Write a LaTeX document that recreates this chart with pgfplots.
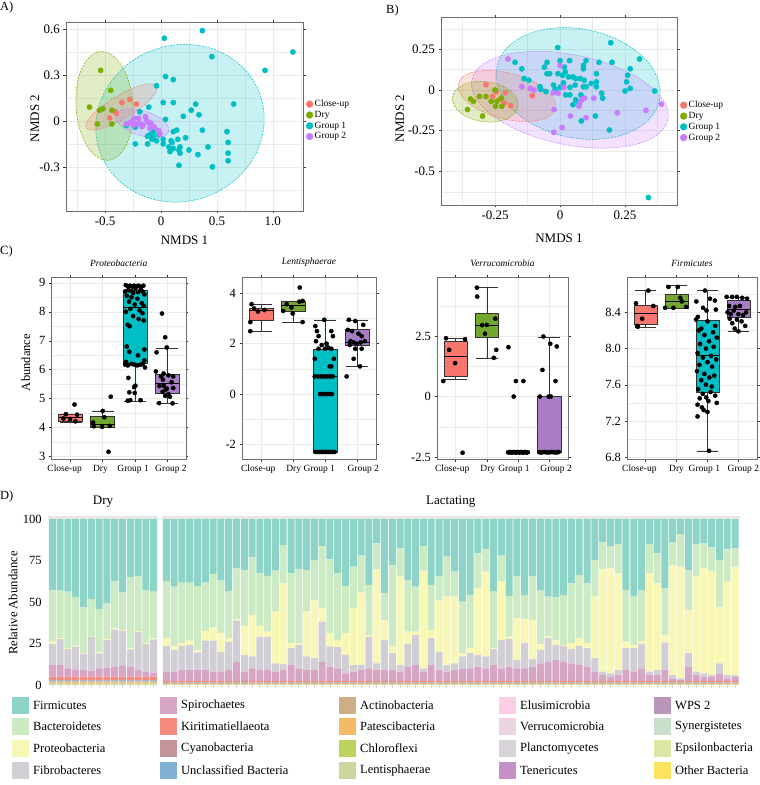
\documentclass[border=0pt]{standalone}
\usepackage{fontspec}
\setmainfont{Liberation Serif}
\usepackage{pgfplots}
\usepackage{pgfplotstable}
\pgfplotsset{compat=1.18}
\usepgfplotslibrary{statistics}
\usetikzlibrary{shapes.geometric}
\newcommand{\fs}[1]{\fontsize{#1}{#1}\selectfont}
\definecolor{cu}{HTML}{F8766D}
\definecolor{dr}{HTML}{7CAE00}
\definecolor{ga}{HTML}{00BFC4}
\definecolor{gb}{HTML}{C77CFF}
\definecolor{gbbox}{HTML}{A87DC6}
\definecolor{drbox}{HTML}{72A830}
\definecolor{framec}{HTML}{6E6E6E}
\definecolor{gridc}{HTML}{EBEBEB}
\definecolor{boxc}{HTML}{333333}
\definecolor{stripc}{HTML}{E6E6E6}
\definecolor{tickD}{HTML}{D9D9D9}
\definecolor{cFir}{HTML}{8DD3C7}
\definecolor{cBac}{HTML}{CCEBC5}
\definecolor{cPro}{HTML}{F9F7B6}
\definecolor{cFib}{HTML}{D2CED6}
\definecolor{cSpi}{HTML}{D6A6C4}
\definecolor{cKir}{HTML}{F58A7E}
\definecolor{cCya}{HTML}{C4939B}
\definecolor{cUnc}{HTML}{80B1D3}
\definecolor{cAct}{HTML}{CFAE86}
\definecolor{cPat}{HTML}{F4BA66}
\definecolor{cChl}{HTML}{BDD35F}
\definecolor{cLen}{HTML}{CBD79D}
\definecolor{cElu}{HTML}{FCCDE5}
\definecolor{cVer}{HTML}{ECD5E3}
\definecolor{cPla}{HTML}{D7D3D9}
\definecolor{cTen}{HTML}{C590C7}
\definecolor{cWps}{HTML}{B996BA}
\definecolor{cSyn}{HTML}{C9DFCB}
\definecolor{cEps}{HTML}{DCE6A5}
\definecolor{cOth}{HTML}{FCE35E}

\pgfplotstableread{
x F B P Fi S K C U A Pa Ch L
1 42.8 31.1 1.4 12.7 7.0 2.0 0.3 0.6 0.7 0.5 0.5 0.4
2 43.2 28.5 0.6 15.7 7.0 2.0 0.3 0.6 0.7 0.5 0.5 0.4
3 43.8 33.9 0.6 11.7 5.0 2.0 0.3 0.6 0.7 0.5 0.5 0.4
4 47.0 29.3 0.6 13.7 4.4 2.0 0.3 0.6 0.7 0.5 0.5 0.4
5 53.2 27.7 0.4 9.7 4.0 2.0 0.3 0.6 0.7 0.5 0.5 0.4
6 48.2 22.3 0.4 20.5 3.6 2.0 0.3 0.6 0.7 0.5 0.5 0.4
7 54.2 26.1 0.6 9.1 5.0 2.0 0.3 0.6 0.7 0.5 0.5 0.4
8 50.8 21.5 0.6 16.7 5.4 2.0 0.3 0.6 0.7 0.5 0.5 0.4
9 37.3 28.6 0.6 22.5 6.0 2.0 0.3 0.6 0.7 0.5 0.5 0.4
10 44.2 22.7 0.6 20.9 6.6 2.0 0.3 0.6 0.7 0.5 0.5 0.4
11 34.9 43.0 0.6 10.5 6.0 2.0 0.3 0.6 0.7 0.5 0.5 0.4
12 34.3 33.2 0.6 22.9 4.0 2.0 0.3 0.6 0.7 0.5 0.5 0.4
13 42.8 31.9 0.6 16.7 3.0 2.0 0.3 0.6 0.7 0.5 0.5 0.4
14 43.8 28.1 0.6 20.1 2.4 2.0 0.3 0.6 0.7 0.5 0.5 0.4
}\drytab

\pgfplotstableread{
x F B P Fi S K C U A Pa Ch L
1 37.3 34.5 4.6 15.6 5.5 0.9 0.2 0.3 0.4 0.3 0.2 0.2
2 40.7 36.1 2.0 13.2 5.5 0.9 0.2 0.3 0.4 0.3 0.2 0.2
3 38.3 36.5 1.6 14.6 6.5 0.9 0.2 0.3 0.4 0.3 0.2 0.2
4 38.3 34.9 2.8 15.0 6.5 0.9 0.2 0.3 0.4 0.3 0.2 0.2
5 40.3 38.9 1.2 10.6 6.5 0.9 0.2 0.3 0.4 0.3 0.2 0.2
6 38.3 29.1 5.8 17.8 6.5 0.9 0.2 0.3 0.4 0.3 0.2 0.2
7 33.1 32.3 7.8 18.8 5.5 0.9 0.2 0.3 0.4 0.3 0.2 0.2
8 37.1 31.7 11.2 12.0 5.5 0.9 0.2 0.3 0.4 0.3 0.2 0.2
9 43.3 28.5 2.2 17.0 6.5 0.9 0.2 0.3 0.4 0.3 0.2 0.2
10 29.7 30.7 0.8 24.8 11.5 0.9 0.2 0.3 0.4 0.3 0.2 0.2
11 30.7 33.7 17.4 10.2 5.5 0.9 0.2 0.3 0.4 0.3 0.2 0.2
12 23.1 34.7 25.0 7.2 7.5 0.9 0.2 0.3 0.4 0.3 0.2 0.2
13 32.7 31.7 6.4 20.2 6.5 0.9 0.2 0.3 0.4 0.3 0.2 0.2
14 34.3 33.5 3.4 19.8 6.5 0.9 0.2 0.3 0.4 0.3 0.2 0.2
15 31.1 24.7 31.2 5.0 5.5 0.9 0.2 0.3 0.4 0.3 0.2 0.2
16 15.7 23.0 48.5 3.8 6.5 0.9 0.2 0.3 0.4 0.3 0.2 0.2
17 32.7 42.1 3.0 10.2 9.5 0.9 0.2 0.3 0.4 0.3 0.2 0.2
18 30.1 44.7 1.0 14.2 7.5 0.9 0.2 0.3 0.4 0.3 0.2 0.2
19 30.7 25.1 27.0 8.2 6.5 0.9 0.2 0.3 0.4 0.3 0.2 0.2
20 25.1 24.1 34.6 7.2 6.5 0.9 0.2 0.3 0.4 0.3 0.2 0.2
21 16.3 37.5 8.0 24.2 11.5 0.9 0.2 0.3 0.4 0.3 0.2 0.2
22 24.3 44.5 8.0 12.2 8.5 0.9 0.2 0.3 0.4 0.3 0.2 0.2
23 32.7 40.5 4.0 12.8 7.5 0.9 0.2 0.3 0.4 0.3 0.2 0.2
24 40.3 28.5 13.0 11.2 4.5 0.9 0.2 0.3 0.4 0.3 0.2 0.2
25 28.7 25.1 34.2 4.0 5.5 0.9 0.2 0.3 0.4 0.3 0.2 0.2
26 21.7 22.6 43.7 3.0 6.5 0.9 0.2 0.3 0.4 0.3 0.2 0.2
27 39.7 30.1 1.0 19.2 7.5 0.9 0.2 0.3 0.4 0.3 0.2 0.2
28 14.7 15.6 56.7 4.0 6.5 0.9 0.2 0.3 0.4 0.3 0.2 0.2
29 44.7 16.1 12.0 18.2 6.5 0.9 0.2 0.3 0.4 0.3 0.2 0.2
30 27.7 49.1 4.0 10.2 6.5 0.9 0.2 0.3 0.4 0.3 0.2 0.2
31 17.7 17.0 53.3 4.0 5.5 0.9 0.2 0.3 0.4 0.3 0.2 0.2
32 36.7 31.1 7.4 13.8 8.5 0.9 0.2 0.3 0.4 0.3 0.2 0.2
33 40.7 27.1 2.0 18.2 9.5 0.9 0.2 0.3 0.4 0.3 0.2 0.2
34 16.3 14.8 58.9 2.0 5.5 0.9 0.2 0.3 0.4 0.3 0.2 0.2
35 39.7 27.1 5.0 16.2 9.5 0.9 0.2 0.3 0.4 0.3 0.2 0.2
36 34.3 14.9 30.8 11.0 6.5 0.9 0.2 0.3 0.4 0.3 0.2 0.2
37 22.7 24.1 41.2 4.0 5.5 0.9 0.2 0.3 0.4 0.3 0.2 0.2
38 31.7 15.1 40.2 4.0 6.5 0.9 0.2 0.3 0.4 0.3 0.2 0.2
39 49.8 31.0 2.0 7.2 7.5 0.9 0.2 0.3 0.4 0.3 0.2 0.2
40 45.7 32.1 3.0 9.2 7.5 0.9 0.2 0.3 0.4 0.3 0.2 0.2
41 20.7 21.0 40.1 7.2 8.5 0.9 0.2 0.3 0.4 0.3 0.2 0.2
42 18.3 13.4 51.1 7.2 7.5 0.9 0.2 0.3 0.4 0.3 0.2 0.2
43 43.7 34.1 0.6 9.6 9.5 0.9 0.2 0.3 0.4 0.3 0.2 0.2
44 21.7 16.0 35.1 17.2 7.5 0.9 0.2 0.3 0.4 0.3 0.2 0.2
45 46.3 24.5 1.6 16.6 8.5 0.9 0.2 0.3 0.4 0.3 0.2 0.2
46 34.3 25.5 25.0 5.2 7.5 0.9 0.2 0.3 0.4 0.3 0.2 0.2
47 45.7 14.7 14.4 15.2 7.5 0.9 0.2 0.3 0.4 0.3 0.2 0.2
48 34.3 26.5 23.6 4.6 8.5 0.9 0.2 0.3 0.4 0.3 0.2 0.2
49 43.1 32.3 3.4 8.2 10.5 0.9 0.2 0.3 0.4 0.3 0.2 0.2
50 46.8 24.0 1.0 14.2 11.5 0.9 0.2 0.3 0.4 0.3 0.2 0.2
51 47.2 26.0 2.6 9.2 12.5 0.9 0.2 0.3 0.4 0.3 0.2 0.2
52 45.7 30.1 0.6 9.6 11.5 0.9 0.2 0.3 0.4 0.3 0.2 0.2
53 38.7 36.1 3.6 8.6 10.5 0.9 0.2 0.3 0.4 0.3 0.2 0.2
54 33.7 38.1 4.6 11.6 9.5 0.9 0.2 0.3 0.4 0.3 0.2 0.2
55 38.7 36.1 3.0 11.2 8.5 0.9 0.2 0.3 0.4 0.3 0.2 0.2
56 24.7 22.1 37.0 8.2 5.5 0.9 0.2 0.3 0.4 0.3 0.2 0.2
57 13.7 16.6 61.7 2.0 3.5 0.9 0.2 0.3 0.4 0.3 0.2 0.2
58 16.3 13.4 63.3 2.0 2.5 0.9 0.2 0.3 0.4 0.3 0.2 0.2
59 15.1 17.6 58.3 3.0 3.5 0.9 0.2 0.3 0.4 0.3 0.2 0.2
60 42.7 31.1 4.0 13.2 6.5 0.9 0.2 0.3 0.4 0.3 0.2 0.2
61 46.8 29.0 2.0 14.2 5.5 0.9 0.2 0.3 0.4 0.3 0.2 0.2
62 42.7 31.1 1.4 14.8 7.5 0.9 0.2 0.3 0.4 0.3 0.2 0.2
63 15.1 17.6 59.3 2.0 3.5 0.9 0.2 0.3 0.4 0.3 0.2 0.2
64 20.7 18.0 52.3 3.0 3.5 0.9 0.2 0.3 0.4 0.3 0.2 0.2
65 41.7 28.1 4.6 16.6 6.5 0.9 0.2 0.3 0.4 0.3 0.2 0.2
66 13.7 14.0 66.3 2.0 1.5 0.9 0.2 0.3 0.4 0.3 0.2 0.2
67 9.1 19.6 67.3 1.0 0.5 0.9 0.2 0.3 0.4 0.3 0.2 0.2
68 30.7 24.1 26.0 8.2 8.5 0.9 0.2 0.3 0.4 0.3 0.2 0.2
69 15.1 19.6 57.3 2.0 3.5 0.9 0.2 0.3 0.4 0.3 0.2 0.2
70 14.7 15.0 63.3 2.0 2.5 0.9 0.2 0.3 0.4 0.3 0.2 0.2
71 17.1 14.6 62.3 1.0 2.5 0.9 0.2 0.3 0.4 0.3 0.2 0.2
72 24.7 28.5 33.8 6.0 4.5 0.9 0.2 0.3 0.4 0.3 0.2 0.2
73 18.3 19.4 56.3 2.0 1.5 0.9 0.2 0.3 0.4 0.3 0.2 0.2
74 17.7 11.0 65.3 1.0 2.5 0.9 0.2 0.3 0.4 0.3 0.2 0.2
}\lactab

\newcommand{\stackD}[1]{%
\addplot[fill=cLen,draw=none] table[x=x,y=L]{#1};
\addplot[fill=cChl,draw=none] table[x=x,y=Ch]{#1};
\addplot[fill=cPat,draw=none] table[x=x,y=Pa]{#1};
\addplot[fill=cAct,draw=none] table[x=x,y=A]{#1};
\addplot[fill=cUnc,draw=none] table[x=x,y=U]{#1};
\addplot[fill=cCya,draw=none] table[x=x,y=C]{#1};
\addplot[fill=cKir,draw=none] table[x=x,y=K]{#1};
\addplot[fill=cSpi,draw=none] table[x=x,y=S]{#1};
\addplot[fill=cFib,draw=none] table[x=x,y=Fi]{#1};
\addplot[fill=cPro,draw=none] table[x=x,y=P]{#1};
\addplot[fill=cBac,draw=none] table[x=x,y=B]{#1};
\addplot[fill=cFir,draw=none] table[x=x,y=F]{#1};}

\newcommand{\legkey}[4]{%
\fill[#3] (#1pt,-#2pt) rectangle ++(17pt,-17pt);
\node[anchor=west,inner sep=0pt,font=\fs{12.5}] at ([xshift=21pt,yshift=-8.5pt]#1pt,-#2pt) {#4};}

\tikzset{ell/.style={ellipse, draw=#1, dash pattern=on 2pt off 1.2pt, line width=0.5pt, fill=#1, fill opacity=0.22, inner sep=0pt}}
\pgfplotsset{
  base/.style={scale only axis, anchor=north west,
    axis line style={draw=framec, line width=0.6pt},
    tick style={draw=boxc, line width=0.5pt}, tick align=outside,
    major tick length=2.5pt, minor tick length=0pt,
    grid=both, major grid style={draw=gridc, line width=0.5pt},
    minor grid style={draw=gridc, line width=0.3pt}},
  nm/.style={base, ticklabel style={font=\fs{13}}, label style={font=\fs{13}},
    legend style={draw=none, fill=none, font=\fs{9.5}, inner sep=0pt, nodes={inner sep=1.5pt}},
    legend cell align=left},
  ptsA/.style={only marks, mark=*, mark size=2.7pt, color=#1, mark options={draw=#1, fill=#1, line width=0.3pt},
    legend image code/.code={\fill[#1] (3.5pt,0pt) circle (3.4pt);}},
  bx/.style={base, xmin=0.4, xmax=4.6, xtick={1,2,3,4}, xticklabel=\empty,
    yticklabel style={font=\fs{12.5}},
    title style={font=\fs{9.5}\itshape, at={(0.5,1)}, anchor=south, yshift=0.5pt},
    boxplot/draw direction=y, boxplot/every median/.style={draw=black, line width=1pt}},
  xl/.style={extra x ticks={#1}, extra x tick labels={Close-up,Dry,Group 1,Group 2},
    extra x tick style={grid=none, major tick length=0pt,
      xticklabel style={font=\fs{9.5}, yshift=-2.5pt}}},
  bp/.style={draw=boxc, line width=0.5pt, fill=#1},
  jit/.style={only marks, mark=*, mark size=2.1pt, black},
  dstyle/.style={scale only axis, anchor=north west, ybar stacked, bar width=0.9,
    ymin=0, ymax=100, axis line style={draw=none}, ytick style={draw=none},
    xtick style={draw=tickD, line width=0.8pt}, tick align=outside, major tick length=2.5pt,
    xticklabel=\empty, clip=false,
    title style={font=\fs{13}, at={(0.5,1)}, anchor=center, yshift=11pt}}
}

\begin{document}
\begin{tikzpicture}
\useasboundingbox (0,0) rectangle (760pt,-785pt);
\node[anchor=north west,inner sep=0pt,font=\fs{12.5}] at (0pt,-2pt) {A)};
\node[anchor=north west,inner sep=0pt,font=\fs{12.5}] at (386pt,-5pt) {B)};
\node[anchor=north west,inner sep=0pt,font=\fs{12.5}] at (0pt,-246pt) {C)};
\node[anchor=north west,inner sep=0pt,font=\fs{12.5}] at (0pt,-491pt) {D)};

% ---------------- Panel A
\begin{axis}[nm, at={(66pt,-22pt)}, width=237pt, height=189pt,
  xmin=-0.85, xmax=1.27, ymin=-0.588, ymax=0.646,
  xtick={-0.5,0,0.5,1}, xticklabels={-0.5,0,0.5,1.0},
  minor xtick={-0.75,-0.25,0.25,0.75,1.25},
  ytick={-0.3,0,0.3,0.6}, yticklabels={-0.3,0,0.3,0.6},
  minor ytick={-0.45,-0.15,0.15,0.45},
  xlabel={NMDS 1}, ylabel={NMDS 2},
  xlabel style={at={(axis description cs:0.5,-0.153)}, anchor=center},
  ylabel style={at={(axis description cs:-0.131,0.49)}, anchor=center},
  legend style={at={(axis description cs:1.012,0.48)}, anchor=west}]
\node[ell=ga, minimum width=170pt, minimum height=156pt, rotate=20] at (axis cs:0.17,-0.015) {};
\node[ell=dr, minimum width=57pt, minimum height=109pt, rotate=4] at (axis cs:-0.506,0.098) {};
\node[ell=cu, minimum width=82pt, minimum height=23pt, rotate=30.6] at (axis cs:-0.353,0.092) {};
\node[ell=gb, minimum width=55pt, minimum height=25pt, rotate=-17.7] at (axis cs:-0.167,-0.015) {};
\addplot[ptsA=cu] coordinates {(-0.35,0.12)(-0.28,0.14)(-0.22,0.11)(-0.41,0.06)(-0.40,0.05)(-0.46,0.02)};
\addlegendentry{Close-up}
\addplot[ptsA=dr] coordinates {(-0.54,0.33)(-0.45,0.20)(-0.64,0.09)(-0.55,0.07)(-0.52,0.08)(-0.44,0.07)(-0.57,-0.02)(-0.44,-0.02)};
\addlegendentry{Dry}
\addplot[ptsA=ga] coordinates {(0.03,0.54)(0.37,0.59)(0.455,0.42)(1.18,0.45)(0.93,0.33)(0.04,0.29)(0.11,0.27)(-0.04,0.23)(0.02,0.12)(0.11,0.12)(0.31,0.11)(0.27,0.07)(0.34,0.04)(0.2,0.03)(0.65,0.11)(-0.11,0.09)(0.04,0.01)(-0.19,0.06)(0.37,-0.06)(0.59,-0.07)(0.14,-0.06)(0.11,-0.07)(0.22,-0.11)(0.15,-0.12)(0.09,-0.13)(0.02,-0.12)(-0.04,-0.13)(-0.08,-0.12)(-0.12,-0.15)(-0.23,-0.15)(0.02,-0.15)(0.10,-0.14)(0.07,-0.17)(0.11,-0.18)(0.17,-0.17)(0.16,-0.19)(0.08,-0.2)(0.17,-0.21)(0.25,-0.19)(0.33,-0.22)(0.42,-0.17)(0.60,-0.14)(0.60,-0.21)(0.60,-0.26)(0.46,-0.30)(0.16,-0.29)(-0.23,-0.04)(-0.10,-0.09)(-0.07,-0.07)(-0.02,-0.09)(-0.07,-0.10)(-0.12,-0.1)(-0.31,-0.03)};
\addlegendentry{Group 1}
\addplot[ptsA=gb] coordinates {(-0.31,-0.02)(-0.29,-0.015)(-0.26,-0.005)(-0.24,-0.026)(-0.22,-0.02)(-0.19,-0.015)(-0.16,-0.026)(-0.13,0.006)(-0.14,0.028)(-0.11,-0.011)(-0.09,-0.015)(-0.06,-0.04)(-0.02,-0.063)(-0.01,-0.085)(-0.20,0.017)(-0.24,0.017)(-0.17,-0.037)(-0.10,-0.048)};
\addlegendentry{Group 2}
\end{axis}

% ---------------- Panel B
\begin{axis}[nm, at={(441pt,-17pt)}, width=236pt, height=188pt,
  xmin=-0.458, xmax=0.45, ymin=-0.706, ymax=0.448,
  xtick={-0.25,0,0.25}, xticklabels={-0.25,0,0.25},
  minor xtick={-0.375,-0.125,0.125,0.375},
  ytick={-0.5,-0.25,0,0.25}, yticklabels={-0.5,-0.25,0,0.25},
  minor ytick={-0.625,-0.375,-0.125,0.125,0.375},
  xlabel={NMDS 1}, ylabel={NMDS 2},
  xlabel style={at={(axis description cs:0.5,-0.176)}, anchor=center},
  ylabel style={at={(axis description cs:-0.174,0.46)}, anchor=center},
  legend style={at={(axis description cs:1.012,0.445)}, anchor=west}]
\node[ell=ga, minimum width=166pt, minimum height=109pt, rotate=-11.5] at (axis cs:0.07,0.04) {};
\node[ell=gb, minimum width=200pt, minimum height=90pt, rotate=-11.5] at (axis cs:0.038,-0.06) {};
\node[ell=cu, minimum width=100pt, minimum height=46pt, rotate=-14.6] at (axis cs:-0.205,-0.037) {};
\node[ell=dr, minimum width=66pt, minimum height=40pt, rotate=-8] at (axis cs:-0.288,-0.072) {};
\addplot[ptsA=cu] coordinates {(-0.285,0.033)(-0.246,-0.011)(-0.21,-0.017)(-0.228,-0.055)(-0.19,-0.097)(-0.107,-0.035)(-0.26,-0.04)(-0.215,-0.08)};
\addlegendentry{Close-up}
\addplot[ptsA=dr] coordinates {(-0.344,-0.055)(-0.333,-0.07)(-0.356,-0.12)(-0.298,-0.16)(-0.31,-0.04)(-0.285,-0.04)(-0.265,-0.07)(-0.25,0.0)(-0.243,-0.07)(-0.248,-0.1)(-0.224,-0.1)(-0.226,-0.05)};
\addlegendentry{Dry}
\addplot[ptsA=ga] coordinates {(-0.009,0.26)(0.195,0.29)(0.306,0.19)(0.2,0.17)(0.27,0.13)(0.26,0.09)(0.364,-0.006)(0.27,0.01)(0.25,-0.006)(0.19,-0.246)(-0.173,0.17)(-0.147,0.13)(-0.138,0.07)(-0.12,0.06)(-0.06,0.14)(-0.05,0.17)(0.0,0.18)(0.017,0.14)(0.037,0.18)(-0.05,0.10)(-0.04,0.10)(-0.008,0.10)(0.01,0.09)(0.02,0.11)(0.033,0.08)(0.05,0.08)(0.06,0.07)(0.077,0.07)(0.093,0.06)(0.09,0.15)(0.09,0.13)(0.1,0.18)(0.14,0.1)(0.15,0.17)(0.14,0.05)(0.14,0.02)(0.12,0.04)(0.09,0.02)(0.058,0.03)(0.038,0.016)(0.013,0.044)(-0.025,0.03)(-0.019,0.004)(0.0,0.016)(-0.077,0.02)(-0.074,0.004)(-0.054,-0.01)(0.022,-0.03)(0.038,-0.03)(0.06,-0.06)(0.05,-0.09)(0.072,-0.08)(0.08,-0.03)(0.1,0.02)(0.16,-0.02)(0.164,-0.05)(0.136,-0.16)(0.082,-0.19)(0.256,0.05)(0.34,-0.66)};
\addlegendentry{Group 1}
\addplot[ptsA=gb] coordinates {(-0.2,0.19)(-0.147,0.02)(-0.115,0.01)(-0.1,0.0)(-0.023,-0.12)(-0.026,-0.017)(-0.007,-0.02)(0.0,0.15)(0.014,0.016)(0.084,-0.06)(0.094,-0.05)(0.073,-0.1)(0.075,-0.082)(0.04,-0.16)(0.1,-0.17)(0.22,-0.14)(0.008,-0.23)(-0.024,-0.26)(0.33,-0.125)(0.39,-0.087)(0.13,-0.05)};
\addlegendentry{Group 2}
\end{axis}

% ---------------- Panel C: Proteobacteria
\begin{axis}[bx, xl={0.81,1.93,2.95,4.13}, at={(51.5pt,-277pt)}, width=134.5pt, height=182pt,
  ymin=2.92, ymax=9.2, ytick={3,4,5,6,7,8,9}, yticklabels={3,4,5,6,7,8,9},
  minor ytick={3.5,4.5,5.5,6.5,7.5,8.5},
  title={Proteobacteria}, ylabel={Abundance},
  ylabel style={font=\fs{12.5}, at={(axis description cs:-0.19,0.53)}, anchor=center}]
\addplot[bp=cu, boxplot prepared={draw position=1, lower whisker=4.2, lower quartile=4.24, median=4.36, upper quartile=4.47, upper whisker=4.48, box extend=0.75, whisker extend=0.7}] coordinates {};
\addplot[bp=drbox, boxplot prepared={draw position=2, lower whisker=4.01, lower quartile=4.03, median=4.1, upper quartile=4.41, upper whisker=4.58, box extend=0.75, whisker extend=0.7}] coordinates {};
\addplot[bp=ga, boxplot prepared={draw position=3, lower whisker=4.91, lower quartile=6.22, median=8.14, upper quartile=8.75, upper whisker=8.93, box extend=0.75, whisker extend=0.7}] coordinates {};
\addplot[bp=gbbox, boxplot prepared={draw position=4, lower whisker=4.83, lower quartile=5.19, median=5.53, upper quartile=5.86, upper whisker=6.75, box extend=0.75, whisker extend=0.7}] coordinates {};
\addplot[jit] coordinates {(0.77,4.32)(0.85,4.47)(1.12,4.8)(0.98,4.3)(1.2,4.45)(1.15,4.22)
(1.7,4.18)(1.72,4.05)(2.0,4.58)(2.05,4.36)(1.98,4.03)(2.22,4.06)(2.25,5.07)(2.18,3.17)
(2.72,8.92)(2.78,8.88)(2.85,8.9)(2.92,8.87)(2.98,8.9)(3.05,8.88)(3.12,8.9)(3.2,8.85)(3.27,8.9)(2.7,8.7)(2.8,8.75)(2.88,8.72)(2.95,8.65)(3.02,8.8)(3.1,8.68)(3.18,8.75)(3.25,8.7)(3.3,8.6)(2.75,8.55)(2.9,8.5)(3.08,8.45)(3.22,8.3)(3.28,8.2)(2.82,8.35)(3.0,8.25)(2.86,8.1)(3.15,8.05)(2.72,8.0)(3.24,7.95)(2.95,7.85)(3.12,7.75)(2.78,7.55)(2.84,7.5)(3.28,7.7)
(2.75,6.8)(2.83,6.62)(3.3,6.7)(3.1,6.5)(2.7,6.18)(2.78,6.15)(2.9,6.2)(2.98,6.18)(3.08,6.15)(3.18,6.17)(3.25,6.2)(3.3,6.32)(2.73,6.27)(3.32,6.08)
(2.8,5.72)(2.83,5.22)(2.78,4.93)(2.86,4.95)(3.0,5.2)(2.98,5.4)(3.02,5.45)(3.18,4.95)
(3.85,7.94)(3.95,7.12)(3.68,6.6)(4.0,6.77)(3.66,5.94)(3.82,5.77)(3.9,5.87)(4.05,5.81)(4.2,5.77)(3.88,5.66)(4.15,5.57)(3.77,5.44)(4.2,5.37)(4.0,5.35)(3.87,5.24)(4.05,5.16)(3.95,5.1)(4.1,5.07)(3.76,4.85)(4.18,4.84)(3.97,5.32)(3.9,5.45)};
\end{axis}

% ---------------- Panel C: Lentisphaerae
\begin{axis}[bx, xl={0.91,2.02,2.82,4.2}, at={(242pt,-277pt)}, width=134pt, height=182pt,
  ymin=-2.58, ymax=4.65, ytick={-2,0,2,4}, yticklabels={-2,0,2,4},
  minor ytick={-1,1,3}, title={Lentisphaerae}]
\addplot[bp=cu, boxplot prepared={draw position=1, lower whisker=2.48, lower quartile=2.94, median=3.3, upper quartile=3.4, upper whisker=3.57, box extend=0.75, whisker extend=0.7}] coordinates {};
\addplot[bp=drbox, boxplot prepared={draw position=2, lower whisker=2.84, lower quartile=3.27, median=3.5, upper quartile=3.67, upper whisker=3.7, box extend=0.75, whisker extend=0.7}] coordinates {};
\addplot[bp=ga, boxplot prepared={draw position=3, lower whisker=-2.3, lower quartile=-2.3, median=0.7, upper quartile=1.79, upper whisker=2.95, box extend=0.75, whisker extend=0.7}] coordinates {};
\addplot[bp=gbbox, boxplot prepared={draw position=4, lower whisker=1.11, lower quartile=1.92, median=2.05, upper quartile=2.58, upper whisker=2.95, box extend=0.75, whisker extend=0.7}] coordinates {};
\addplot[jit] coordinates {(0.7,3.57)(0.78,3.4)(0.9,3.28)(1.1,3.34)(0.66,2.86)(0.66,2.5)
(2.21,4.23)(1.69,3.3)(1.8,3.57)(1.95,3.44)(1.99,3.2)(2.2,3.67)(2.3,3.7)(2.3,2.86)
(2.98,2.95)(2.7,2.7)(2.75,2.5)(3.2,2.5)(2.72,2.1)(3.25,2.3)(2.9,1.95)(3.1,1.85)(2.8,1.8)(3.0,1.8)(3.2,1.8)(2.68,1.4)(3.28,1.4)(3.15,1.1)(3.2,1.1)(2.68,0.7)(2.78,0.7)(2.88,0.7)(2.97,0.7)(3.06,0.7)(3.15,0.7)(3.24,0.7)(2.85,0)(2.92,0)(3.0,0)(3.07,0)(3.14,0)(3.22,0)(2.7,-2.3)(2.76,-2.3)(2.82,-2.3)(2.88,-2.3)(2.94,-2.3)(3.0,-2.3)(3.06,-2.3)(3.12,-2.3)(3.18,-2.3)(3.24,-2.3)(3.3,-2.3)(2.8,2.3)(3.05,2.0)
(3.75,2.95)(3.95,2.9)(4.2,2.75)(3.72,2.55)(3.85,2.5)(4.05,2.4)(4.15,2.3)(3.8,2.1)(3.9,2.05)(4.0,2.0)(4.12,2.05)(4.25,2.1)(3.78,1.95)(3.95,1.8)(4.15,1.8)(3.9,1.4)(4.1,1.1)(3.68,0.7)};
\end{axis}

% ---------------- Panel C: Verrucomicrobia
\begin{axis}[bx, xl={0.89,2.03,2.87,4.22}, at={(437pt,-277pt)}, width=131pt, height=182pt,
  ymin=-2.58, ymax=4.94, ytick={-2.5,0,2.5}, yticklabels={-2.5,0,2.5},
  minor ytick={-1.25,1.25,3.75}, title={Verrucomicrobia}]
\addplot[bp=cu, boxplot prepared={draw position=1, lower whisker=0.7, lower quartile=0.86, median=1.67, upper quartile=2.27, upper whisker=2.41, box extend=0.75, whisker extend=0.7}] coordinates {};
\addplot[bp=drbox, boxplot prepared={draw position=2, lower whisker=1.6, lower quartile=2.45, median=2.95, upper quartile=3.45, upper whisker=4.5, box extend=0.75, whisker extend=0.7}] coordinates {};
\addplot[bp=ga, boxplot prepared={draw position=3, lower whisker=-2.3, lower quartile=-2.3, median=-2.3, upper quartile=-2.3, upper whisker=-2.3, box extend=0.75, whisker extend=0.7}] coordinates {};
\addplot[bp=gbbox, boxplot prepared={draw position=4, lower whisker=-2.3, lower quartile=-2.3, median=-2.3, upper quartile=0.0, upper whisker=2.47, box extend=0.75, whisker extend=0.7}] coordinates {};
\addplot[jit] coordinates {(0.69,2.41)(1.3,2.37)(0.79,1.93)(0.98,1.38)(0.6,0.64)(1.22,-2.32)
(1.68,4.5)(1.69,4.13)(2.27,3.22)(2.0,2.96)(1.85,2.95)(1.94,2.6)(2.3,1.93)(2.22,1.6)
(2.69,2.04)(2.93,0.64)(3.17,0.64)(2.86,0.0)
(2.68,-2.3)(2.71,-2.31)(2.74,-2.29)(2.77,-2.3)(2.8,-2.31)(2.83,-2.3)(2.86,-2.29)(2.89,-2.3)(2.92,-2.31)(2.95,-2.3)(2.98,-2.29)(3.01,-2.3)(3.04,-2.31)(3.07,-2.3)(3.1,-2.29)(3.13,-2.3)(3.16,-2.31)(3.19,-2.3)(3.22,-2.29)(3.25,-2.3)(3.28,-2.31)(3.31,-2.3)
(3.81,2.48)(4.03,2.18)(4.24,2.07)(3.78,1.1)(4.2,0.64)(3.7,0.0)(3.98,0.0)(4.05,0.0)
(3.68,-2.3)(3.73,-2.31)(3.78,-2.3)(3.84,-2.29)(3.9,-2.3)(3.96,-2.31)(4.02,-2.3)(4.08,-2.29)(4.14,-2.3)(4.2,-2.31)(4.26,-2.3)(4.3,-2.29)};
\end{axis}

% ---------------- Panel C: Firmicutes
\begin{axis}[bx, xl={0.8,2.0,2.9,4.16}, at={(627pt,-277pt)}, width=130pt, height=182pt,
  ymin=6.78, ymax=8.79, ytick={6.8,7.2,7.6,8.0,8.4}, yticklabels={6.8,7.2,7.6,8.0,8.4},
  minor ytick={7.0,7.4,7.8,8.2,8.6}, title={Firmicutes}]
\addplot[bp=cu, boxplot prepared={draw position=1, lower whisker=8.23, lower quartile=8.27, median=8.39, upper quartile=8.48, upper whisker=8.64, box extend=0.75, whisker extend=0.7}] coordinates {};
\addplot[bp=drbox, boxplot prepared={draw position=2, lower whisker=8.45, lower quartile=8.45, median=8.52, upper quartile=8.6, upper whisker=8.7, box extend=0.75, whisker extend=0.7}] coordinates {};
\addplot[bp=ga, boxplot prepared={draw position=3, lower whisker=6.87, lower quartile=7.52, median=7.92, upper quartile=8.31, upper whisker=8.64, box extend=0.75, whisker extend=0.7}] coordinates {};
\addplot[bp=gbbox, boxplot prepared={draw position=4, lower whisker=8.19, lower quartile=8.35, median=8.43, upper quartile=8.53, upper whisker=8.57, box extend=0.75, whisker extend=0.7}] coordinates {};
\addplot[jit] coordinates {(1.09,8.64)(0.69,8.5)(1.25,8.47)(0.89,8.33)(0.73,8.25)(0.75,8.24)
(1.74,8.68)(2.04,8.68)(1.63,8.45)(1.9,8.45)(2.17,8.52)(2.31,8.46)(2.12,8.56)
(2.92,8.64)(2.64,8.52)(3.08,8.55)(3.24,8.53)(2.86,8.45)(2.97,8.42)(3.27,8.43)(2.69,8.35)(2.63,8.32)(3.0,8.3)(3.25,8.25)(2.8,8.22)(2.72,8.2)(3.18,8.18)(2.9,8.15)(3.3,8.12)(3.05,8.08)(2.76,8.05)(3.2,8.02)(2.95,8.0)(2.68,7.95)(3.12,7.92)(2.85,7.9)(3.28,7.88)(3.0,7.85)(2.74,7.82)(3.15,7.8)(2.66,7.75)(2.9,7.72)(3.22,7.7)(3.06,7.68)(2.8,7.65)(2.95,7.6)(3.14,7.58)(2.7,7.55)(3.1,7.52)(2.85,7.5)(3.25,7.48)(2.96,7.46)(2.75,7.45)(3.03,7.42)(2.68,7.38)(2.82,7.35)(2.88,7.32)(3.0,7.3)(2.68,7.25)(3.3,7.4)(3.05,6.87)
(3.62,8.57)(3.8,8.57)(3.95,8.57)(4.12,8.56)(4.28,8.55)(3.7,8.47)(3.9,8.46)(4.05,8.47)(3.65,8.4)(3.75,8.38)(3.85,8.42)(4.0,8.38)(4.15,8.37)(4.25,8.4)(3.72,8.33)(3.95,8.32)(4.1,8.3)(3.88,8.22)(4.22,8.25)(4.0,8.19)(3.8,8.28)};
\end{axis}

% ---------------- Panel D
\begin{axis}[dstyle, at={(47.7pt,-519pt)}, width=110.6pt, height=166pt,
  xmin=0.4, xmax=14.6, xtick={1,...,14},
  ytick={0,25,50,75,100}, yticklabels={0,25,50,75,100},
  yticklabel style={font=\fs{12.5}}, title={Dry},
  ylabel={Relative Abundance},
  ylabel style={font=\fs{12.7}, at={(axis description cs:-0.314,0.494)}, anchor=center}]
\fill[stripc] (rel axis cs:0,1) rectangle ([yshift=3.5pt]rel axis cs:1,1);
\stackD{\drytab}
\end{axis}
\begin{axis}[dstyle, at={(161.7pt,-519pt)}, width=578pt, height=166pt,
  xmin=0.4, xmax=74.6, xtick={1,...,74}, ytick=\empty, title={Lactating}]
\fill[stripc] (rel axis cs:0,1) rectangle ([yshift=3.5pt]rel axis cs:1,1);
\stackD{\lactab}
\end{axis}

% legend D
\legkey{12}{696.5}{cFir}{Firmicutes}
\legkey{12}{718.2}{cBac}{Bacteroidetes}
\legkey{12}{739.8}{cPro}{Proteobacteria}
\legkey{12}{761.5}{cFib}{Fibrobacteres}
\legkey{160}{696.5}{cSpi}{Spirochaetes}
\legkey{160}{718.2}{cKir}{Kiritimatiellaeota}
\legkey{160}{739.8}{cCya}{Cyanobacteria}
\legkey{160}{761.5}{cUnc}{Unclassified Bacteria}
\legkey{339}{696.5}{cAct}{Actinobacteria}
\legkey{339}{718.2}{cPat}{Patescibacteria}
\legkey{339}{739.8}{cChl}{Chloroflexi}
\legkey{339}{761.5}{cLen}{Lentisphaerae}
\legkey{499}{696.5}{cElu}{Elusimicrobia}
\legkey{499}{718.2}{cVer}{Verrucomicrobia}
\legkey{499}{739.8}{cPla}{Planctomycetes}
\legkey{499}{761.5}{cTen}{Tenericutes}
\legkey{654}{696.5}{cWps}{WPS 2}
\legkey{654}{718.2}{cSyn}{Synergistetes}
\legkey{654}{739.8}{cEps}{Epsilonbacteria}
\legkey{654}{761.5}{cOth}{Other Bacteria}
\end{tikzpicture}
\end{document}
